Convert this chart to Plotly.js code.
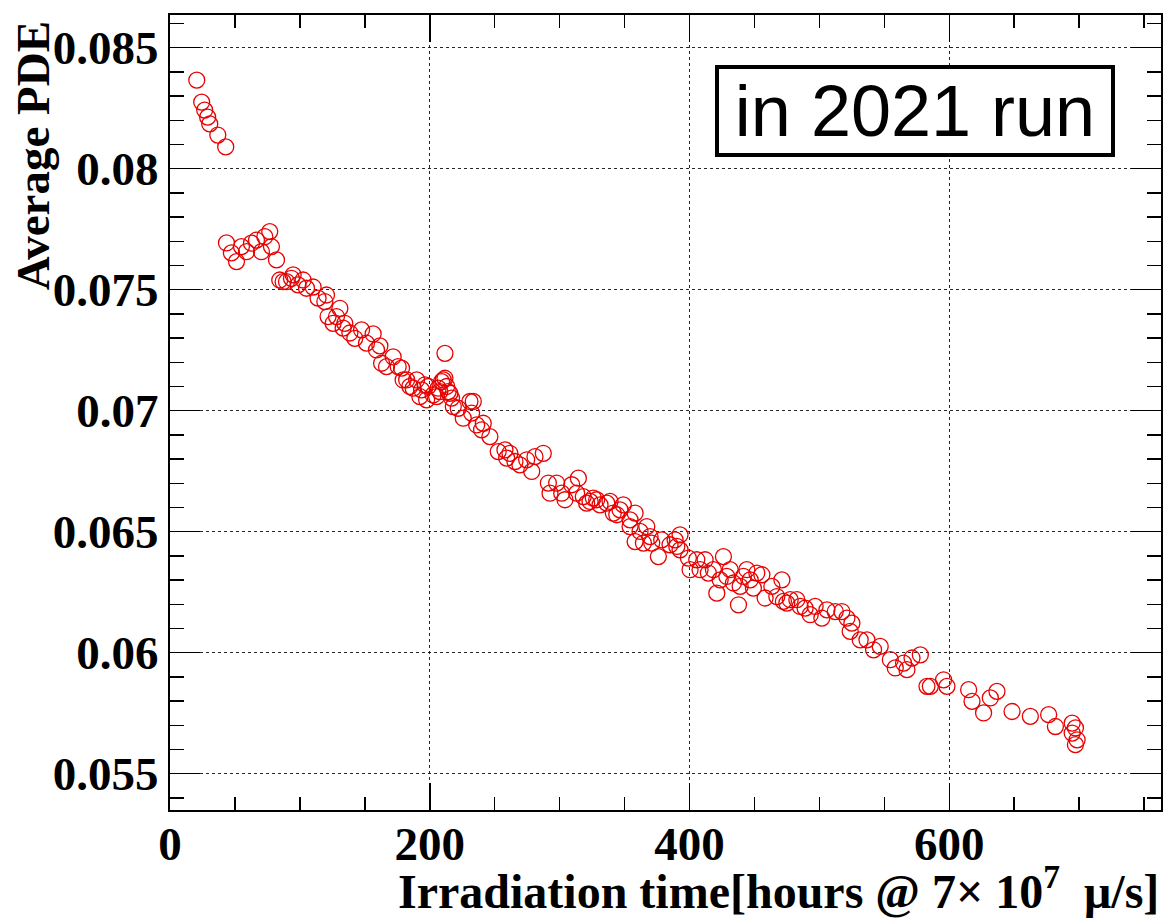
<!DOCTYPE html>
<html>
<head>
<meta charset="utf-8">
<script src="https://cdn.plot.ly/plotly-3.0.1.min.js"></script>
<style>
html,body{margin:0;padding:0;background:#fff;}
#chart{width:1169px;height:920px;}
</style>
</head>
<body>
<div id="chart"></div>
<script>
// Irradiation time [hours @ 7x10^7 mu/s]
const hours = [
  20.6, 24.4, 26.7, 29.0, 30.6, 36.8, 42.9,
  43.5, 47.3, 51.2, 55.0, 58.9, 62.7, 66.6, 70.4, 73.0, 76.8,
  78.1, 82.0, 84.5, 87.1, 89.7, 93.5, 94.8, 98.6, 102.5, 105.1,
  110.2, 114.0, 119.2, 120.5, 121.7, 125.6, 128.2, 130.8, 133.3, 134.6,
  138.5, 142.3, 147.5, 151.3, 156.4, 159.0, 161.6, 162.9, 166.7, 171.8,
  175.7, 178.3, 179.5, 182.2, 184.7, 187.2, 189.9, 192.4, 193.7, 196.3,
  198.8, 197.6, 202.6, 205.3, 206.5, 207.8, 209.1, 210.4, 211.7, 211.7,
  213.0, 214.2, 215.5, 216.8, 218.1, 221.9, 225.8, 230.9, 232.2, 233.5,
  236.1, 239.9, 241.2, 246.3, 252.7, 257.9, 259.2, 261.7, 265.6, 269.4,
  274.6, 278.5, 281.0, 287.4, 291.3, 292.6, 297.7, 301.6, 304.1, 309.3,
  313.1, 314.4, 318.2, 320.8, 323.4, 325.9, 328.5, 331.1, 336.3, 338.8,
  341.3, 344.0, 346.5, 349.0, 354.2, 354.2, 358.1, 358.1, 361.9, 364.5,
  367.1, 369.6, 370.9, 376.0, 378.6, 385.0, 388.9, 390.2, 392.7, 392.7,
  399.1, 400.4, 405.6, 408.1, 412.0, 414.5, 418.4, 421.0, 423.6, 426.1,
  428.7, 431.3, 433.8, 437.7, 439.0, 441.5, 444.1, 446.7, 449.2, 451.8,
  455.7, 458.2, 463.4, 467.2, 471.1, 472.3, 474.9, 477.5, 482.6, 485.2,
  489.0, 492.9, 496.7, 501.9, 505.8, 512.2, 517.3, 521.2, 525.0, 523.7,
  531.4, 536.6, 541.7, 546.8, 554.6, 558.4, 564.8, 567.4, 571.3, 577.7,
  582.8, 585.4, 595.6, 598.2, 614.9, 617.5, 626.4, 631.6, 636.7, 648.3,
  662.4, 676.5, 681.7, 694.6, 697.1, 694.6, 698.4, 697.1
];
// Average PDE
const pde = [
  0.08366, 0.08275, 0.08242, 0.08213, 0.08185, 0.08139, 0.08090,
  0.07693, 0.07652, 0.07616, 0.07678, 0.07657, 0.07692, 0.07705, 0.07657, 0.07719, 0.07740,
  0.07678, 0.07623, 0.07540, 0.07533, 0.07533, 0.07547, 0.07561, 0.07520, 0.07540, 0.07506,
  0.07511, 0.07465, 0.07451, 0.07478, 0.07389, 0.07361, 0.07389, 0.07423, 0.07341, 0.07361,
  0.07321, 0.07299, 0.07334, 0.07279, 0.07317, 0.07251, 0.07268, 0.07196, 0.07182, 0.07222,
  0.07182, 0.07176, 0.07127, 0.07127, 0.07100, 0.07093, 0.07127, 0.07058, 0.07086, 0.07107,
  0.07100, 0.07045, 0.07065, 0.07058, 0.07093, 0.07079, 0.07120, 0.07127, 0.07237, 0.07134,
  0.07100, 0.07079, 0.07072, 0.07052, 0.07017, 0.07010, 0.06969, 0.07038, 0.06990, 0.07038,
  0.06941, 0.06921, 0.06948, 0.06893, 0.06831, 0.06838, 0.06804, 0.06824, 0.06790, 0.06776,
  0.06797, 0.06749, 0.06810, 0.06824, 0.06701, 0.06659, 0.06701, 0.06659, 0.06632, 0.06694,
  0.06659, 0.06721, 0.06645, 0.06618, 0.06625, 0.06639, 0.06632, 0.06611, 0.06618, 0.06625,
  0.06577, 0.06570, 0.06590, 0.06611, 0.06549, 0.06521, 0.06577, 0.06459, 0.06501, 0.06453,
  0.06521, 0.06480, 0.06453, 0.06397, 0.06466, 0.06446, 0.06466, 0.06439, 0.06487, 0.06425,
  0.06391, 0.06343, 0.06384, 0.06343, 0.06384, 0.06329, 0.06343, 0.06246, 0.06301, 0.06397,
  0.06315, 0.06343, 0.06288, 0.06198, 0.06274, 0.06315, 0.06343, 0.06301, 0.06267, 0.06329,
  0.06322, 0.06226, 0.06274, 0.06232, 0.06301, 0.06212, 0.06205, 0.06219, 0.06219, 0.06191,
  0.06184, 0.06157, 0.06191, 0.06143, 0.06177, 0.06170, 0.06170, 0.06143, 0.06122, 0.06088,
  0.06053, 0.06053, 0.06012, 0.06026, 0.05971, 0.05937, 0.05957, 0.05930, 0.05978, 0.05991,
  0.05861, 0.05861, 0.05888, 0.05861, 0.05847, 0.05799, 0.05751, 0.05813, 0.05840, 0.05757,
  0.05737, 0.05744, 0.05695, 0.05709, 0.05689, 0.05668, 0.05640, 0.05620
];
const xTickVals = [0, 200, 400, 600];
const xTickText = ['0', '200', '400', '600'];
const yTickVals = [0.055, 0.06, 0.065, 0.07, 0.075, 0.08, 0.085];
const yTickText = ['0.055', '0.06', '0.065', '0.07', '0.075', '0.08', '0.085'];
const xTitle = '<b>Irradiation time[hours @ 7\u00d7 10<sup>7</sup>  \u03bc/s]</b>';
const yTitle = '<b>Average PDE</b>';
const boxLabel = 'in 2021 run';

const serif = 'Liberation Serif, Times New Roman, serif';

const trace = {
  x: hours, y: pde, type: 'scatter', mode: 'markers',
  marker: {symbol: 'circle-open', size: 16, color: 'rgb(232,0,0)', line: {width: 1.3, color: 'rgb(232,0,0)'}},
  hoverinfo: 'x+y'
};

const axisCommon = {
  showline: true, linecolor: 'black', linewidth: 2, mirror: 'allticks',
  ticks: 'inside', tickcolor: 'black', tickwidth: 1.5,
  showgrid: true, gridcolor: 'rgba(0,0,0,0.85)', gridwidth: 1, griddash: 'dot',
  zeroline: false,
  tickfont: {family: serif, size: 47, color: 'black', weight: 'bold'},
  tickmode: 'array'
};

const layout = {
  width: 1169, height: 920,
  margin: {l: 170, r: 8, t: 15, b: 110},
  paper_bgcolor: 'white', plot_bgcolor: 'white',
  showlegend: false,
  xaxis: Object.assign({}, axisCommon, {
    range: [0, 763], tickvals: xTickVals, ticktext: xTickText, ticklen: 27,
    ticklabelstandoff: -8,
    minor: {dtick: 50, tick0: 0, ticks: 'inside', ticklen: 13, tickcolor: 'black', tickwidth: 1.5, showgrid: false}
  }),
  yaxis: Object.assign({}, axisCommon, {
    range: [0.0535, 0.08635], tickvals: yTickVals, ticktext: yTickText, ticklen: 30,
    minor: {dtick: 0.001, tick0: 0.055, ticks: 'inside', ticklen: 14, tickcolor: 'black', tickwidth: 1.5, showgrid: false}
  }),
  annotations: [
    {xref: 'paper', yref: 'paper', x: 1.0, y: -0.1384, xanchor: 'right', yanchor: 'bottom',
     text: xTitle, showarrow: false, font: {family: serif, size: 48, color: 'black'}},
    {xref: 'paper', yref: 'paper', x: -0.138, y: 0.8226, xanchor: 'center', yanchor: 'middle',
     textangle: -90, text: yTitle, showarrow: false, font: {family: serif, size: 47, color: 'black'}},
    {xref: 'paper', yref: 'paper', x: 0.752, y: 0.879, xanchor: 'center', yanchor: 'middle',
     text: boxLabel, showarrow: false, font: {family: 'Liberation Sans, Arial, sans-serif', size: 72, color: 'black'},
     width: 392, height: 84, borderpad: 0,
     bordercolor: 'black', borderwidth: 4, bgcolor: 'white'}
  ]
};

Plotly.newPlot('chart', [trace], layout, {displayModeBar: false, staticPlot: true});
</script>
</body>
</html>
